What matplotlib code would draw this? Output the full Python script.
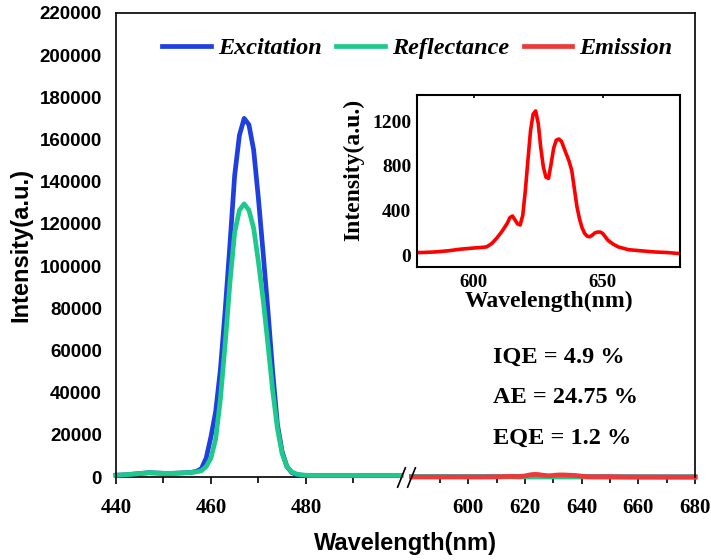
import numpy as np
import matplotlib.pyplot as plt

# ---- data ----
wl_left = list(range(440, 501))
exc_left = [900, 1000, 1100, 1300, 1500, 1700, 1900, 2100, 2000, 1900,
            1800, 1800, 1800, 1900, 2000, 2100, 2300, 2800, 4000, 9000,
            19000, 31000, 51000, 79000, 110000, 143000, 162000, 170000, 167000, 155000,
            132000, 106000, 79000, 50000, 25000, 12000, 5000, 2200, 1200, 900,
            800, 700, 700, 700, 700, 700, 700, 700, 700, 700,
            700, 700, 700, 700, 700, 700, 700, 700, 700, 700, 700]
refl_left = [900, 1000, 1100, 1300, 1500, 1700, 1900, 2100, 2000, 1900,
             1800, 1800, 1800, 1900, 2000, 2100, 2300, 2500, 3000, 5000,
             9000, 18000, 37000, 63000, 92000, 116000, 126500, 129500, 126500, 118000,
             102000, 84000, 63000, 41000, 23000, 11000, 5000, 2500, 1500, 1100,
             900, 800, 800, 800, 800, 800, 800, 800, 800, 800,
             800, 800, 800, 800, 800, 800, 800, 800, 800, 800, 800]

wl_right = [580, 590, 600, 610, 620, 630, 640, 650, 660, 670, 680]
exc_right = [250, 220, 200, 180, 150, 150, 150, 120, 100, 100, 100]
refl_right = [250, 220, 200, 180, 150, 150, 150, 120, 100, 100, 100]

em_wl = [578, 580, 585, 590, 595, 600, 603, 605, 607, 609, 611, 613, 614, 615,
         616, 617, 618, 619, 620, 621, 622, 623, 624, 625, 626, 627, 628, 629,
         630, 631, 632, 633, 634, 635, 636, 637, 638, 639, 640, 641, 642, 643,
         644, 645, 646, 647, 648, 649, 650, 651, 652, 654, 656, 660, 665, 670,
         675, 680]
em_val = [30, 30, 35, 45, 60, 70, 75, 80, 110, 160, 220, 290, 340, 355,
          320, 285, 275, 360, 580, 850, 1110, 1260, 1290, 1180, 960, 790, 700, 690,
          820, 960, 1030, 1040, 1020, 960, 900, 840, 760, 600, 440, 330, 250, 200,
          175, 170, 185, 205, 212, 212, 200, 170, 140, 105, 80, 55, 45, 35,
          30, 20]

y_ticks = [0, 20000, 40000, 60000, 80000, 100000, 120000, 140000,
           160000, 180000, 200000, 220000]
x_major = [440, 460, 480, 600, 620, 640, 660, 680]
x_minor = [450, 470, 490, 590, 610, 630, 650, 670]
labels_txt = ["IQE = 4.9 %", "AE = 24.75 %", "EQE = 1.2 %"]

BLUE = "#1f3fdf"
GREEN = "#1fc98c"
RED = "#ec3a3a"

SANS = "Liberation Sans"
SERIF = "Liberation Serif"

# broken x axis: 440-500 and 580-680 squeezed onto one axis
XP = [0, 440, 500, 580, 680, 2000]
FP = [-2090, 0, 285, 295.5, 579, 4330]


def fwd(x):
    return np.interp(x, XP, FP)


def inv(u):
    return np.interp(u, FP, XP)


fig = plt.figure(figsize=(7.11, 5.6), dpi=100)
ax = fig.add_axes([0.163, 0.148, 0.8145, 0.829])
ax.set_xscale("function", functions=(fwd, inv))

LW = 3.4
l1, = ax.plot(wl_left, exc_left, color=BLUE, lw=LW, label="Excitation", clip_on=False)
ax.plot(wl_right, exc_right, color=BLUE, lw=LW, clip_on=False)
l2, = ax.plot(wl_left, refl_left, color=GREEN, lw=LW, label="Reflectance", clip_on=False)
ax.plot(wl_right, refl_right, color=GREEN, lw=LW, clip_on=False)
l3, = ax.plot(em_wl[1:], em_val[1:], color=RED, lw=LW, label="Emission", clip_on=False)

ax.set_xlim(440, 680)
ax.set_ylim(0, 220000)

ax.set_xticks(x_major, labels=[str(v) for v in x_major],
              family=SERIF, fontweight="bold", fontsize=15)
ax.set_xticks(x_minor, minor=True)
ax.set_yticks(y_ticks, labels=[str(v) for v in y_ticks],
              family=SANS, fontweight="bold", fontsize=13.5)
ax.tick_params(axis="x", which="major", direction="out", length=5, width=1.2, pad=10)
ax.tick_params(axis="x", which="minor", direction="out", length=4, width=1.2)
ax.tick_params(axis="y", length=0, pad=10)

for s in ["left", "top", "right"]:
    ax.spines[s].set_linewidth(1.2)
ax.spines["bottom"].set_visible(False)
xt = ax.get_xaxis_transform()
ax.plot([440, 500], [0, 0], transform=xt, color="k", lw=1.2, clip_on=False, zorder=1)
ax.plot([580, 680], [0, 0], transform=xt, color="k", lw=1.2, clip_on=False, zorder=1)
ax.plot([500, 580], [0, 0], transform=xt, ls="none", marker=[(-0.4, -1), (0.4, 1)],
        markersize=15, mew=1.2, color="k", clip_on=False, zorder=5)

ax.set_xlabel("Wavelength(nm)", family=SANS, fontweight="bold", fontsize=17, labelpad=10)
ax.set_ylabel("Intensity(a.u.)", family=SANS, fontweight="bold", fontsize=17, labelpad=5)

ax.legend(handles=[l1, l2, l3], loc="center", bbox_to_anchor=(0.587, 0.914),
          bbox_transform=fig.transFigure, ncol=3, frameon=False,
          handlelength=2.0, handletextpad=0.3, columnspacing=0.6,
          prop={"family": SERIF, "weight": "bold", "style": "italic", "size": 17.5})

for i, t in enumerate(labels_txt):
    fig.text(0.693, (560 - 357 - 40.5 * i) / 560, t, family=SERIF, fontweight="bold",
             fontsize=17.5, ha="left", va="center")

# inset with the emission band
ins = fig.add_axes([0.5865, 0.523, 0.370, 0.307])
ins.plot(em_wl, em_val, color="#ff0000", lw=2.6)
ins.set_xlim(578, 680)
ins.set_ylim(-100, 1430)
ins.set_xticks([600, 650], labels=["600", "650"], family=SERIF, fontweight="bold", fontsize=13.5)
ins.set_yticks([0, 400, 800, 1200], labels=["0", "400", "800", "1200"],
               family=SERIF, fontweight="bold", fontsize=14)
ins.tick_params(axis="x", direction="in", top=True, bottom=False, length=2, width=1.2, pad=5)
ins.tick_params(axis="y", length=0, pad=4)
for s in ins.spines.values():
    s.set_linewidth(1.5)
ins.set_xlabel("Wavelength(nm)", family=SERIF, fontweight="bold", fontsize=17, labelpad=0)
ins.set_ylabel("Intensity(a.u.)", family=SERIF, fontweight="bold", fontsize=17)
ins.yaxis.set_label_coords(-0.2, 0.564)

fig.savefig("out.png", dpi=100)
